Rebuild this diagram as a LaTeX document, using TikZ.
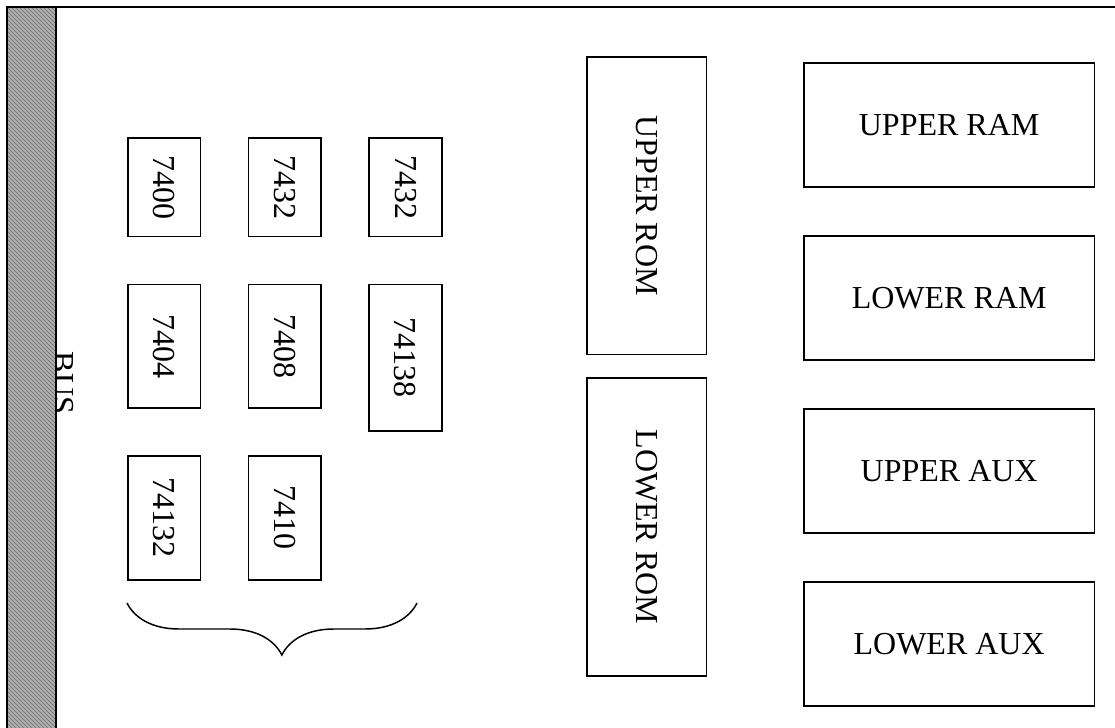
\documentclass[tikz,border=0pt]{standalone}
\usepackage{fontspec}
\setmainfont{Liberation Serif}
\usepackage{tikz}
\usetikzlibrary{positioning, decorations.pathreplacing, patterns}

\newcommand{\vlabel}[1]{\rotatebox{-90}{#1}}

\begin{document}
\begin{tikzpicture}[
  x=0.75pt, y=-0.75pt,
  font=\fontsize{24}{28}\selectfont,
  box/.style={draw, line width=1.2pt, inner sep=0pt},
  chip/.style={box, minimum width=54.5pt, minimum height=92.75pt},
  rom/.style={box, minimum width=89.75pt, minimum height=223.25pt},
  mem/.style={box, minimum width=218pt, minimum height=93.2pt},
  node distance=34.8pt,
]
  \clip (0,0) rectangle (1115,728);

  % bus bar on the left, label half hidden behind it
  \node[rotate=-90, anchor=base] (bustxt) at (52,383) {BUS};
  \fill[gray!60] (7,7) rectangle (56,740);
  \fill[pattern=north west lines, pattern color=black!60] (7,7) rectangle (56,740);
  \draw[line width=1.5pt] (7,740) -- (7,7) -- (1115,7);
  \draw[line width=1.5pt] (56,7) -- (56,740);

  % glue logic
  \node[chip, minimum height=74pt, anchor=north west] (c7400) at (127,137) {\vlabel{7400}};
  \node[chip, minimum height=74pt, right=of c7400] (c7432a) {\vlabel{7432}};
  \node[chip, minimum height=74pt, right=of c7432a] (c7432b) {\vlabel{7432}};
  \node[chip, below=of c7400] (c7404) {\vlabel{7404}};
  \node[chip, below=of c7432a] (c7408) {\vlabel{7408}};
  \node[chip, minimum height=110pt, below=of c7432b] (c74138) {\vlabel{74138}};
  \node[chip, below=of c7404] (c74132) {\vlabel{74132}};
  \node[chip, below=of c7408] (c7410) {\vlabel{7410}};

  \draw[line width=1.1pt, decorate, decoration={brace, amplitude=39pt, aspect=0.466}]
    (417,603) -- (127,603);

  % memory
  \node[rom, anchor=north west] (urom) at (586,56) {\vlabel{UPPER ROM}};
  \node[rom, below=16.5pt of urom] (lrom) {\vlabel{LOWER ROM}};

  \node[mem, anchor=north west] (uram) at (803,62) {UPPER RAM};
  \node[mem, below=35.4pt of uram] (lram) {LOWER RAM};
  \node[mem, below=35.4pt of lram] (uaux) {UPPER AUX};
  \node[mem, below=35.4pt of uaux] (laux) {LOWER AUX};
\end{tikzpicture}
\end{document}
